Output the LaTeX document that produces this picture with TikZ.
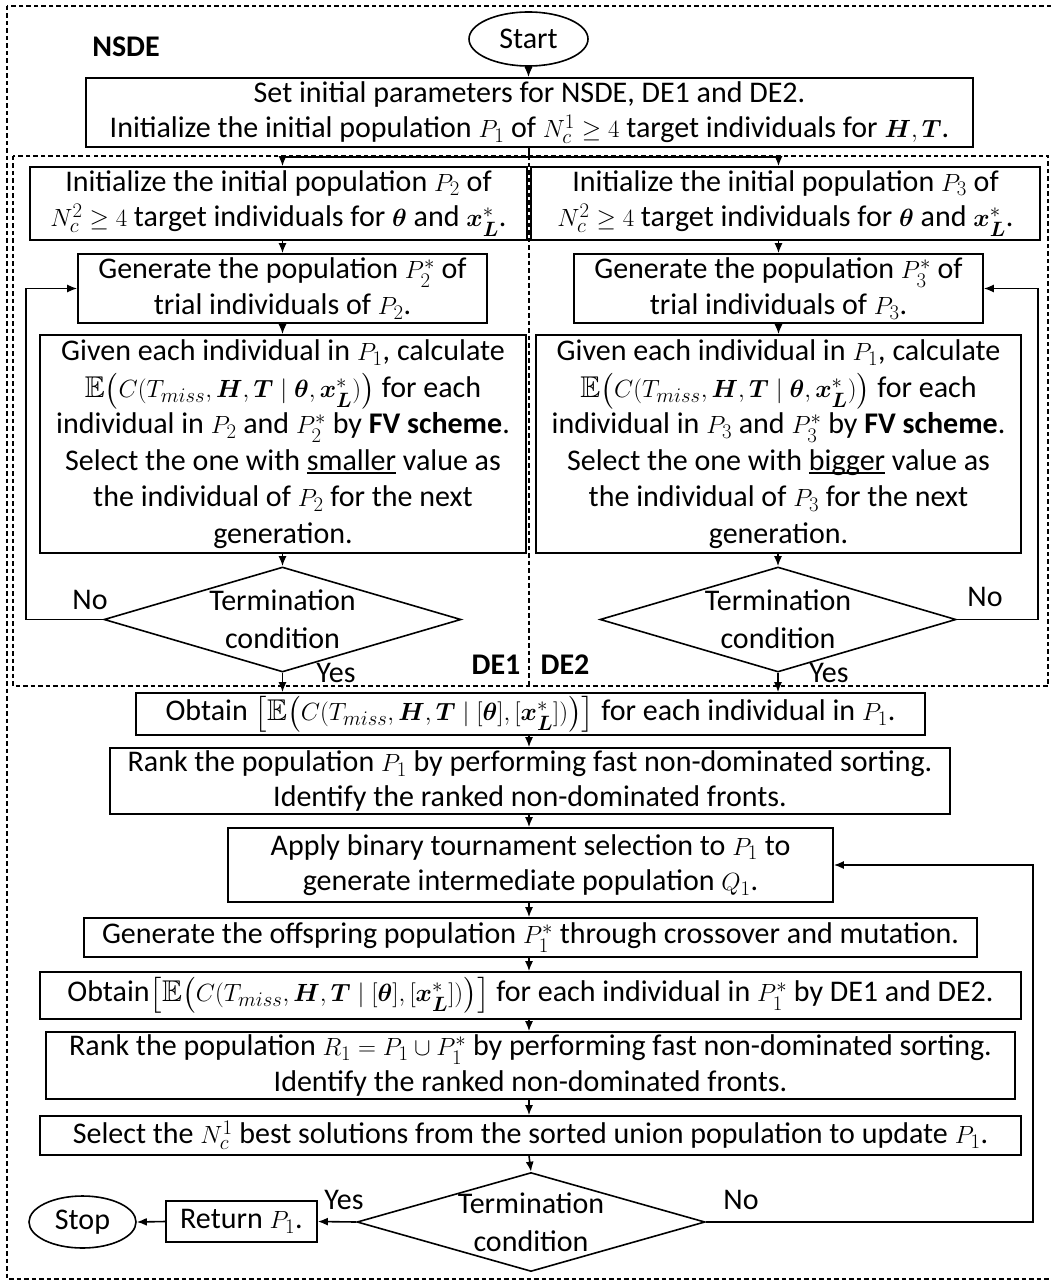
\documentclass[tikz,border=0pt]{standalone}
\usepackage{amsmath,amssymb,bm}
\usepackage{fontspec}
\setmainfont{Carlito}
\usetikzlibrary{arrows.meta,shapes.geometric}
\newcommand{\bx}{\boldsymbol{x}^{*}_{\boldsymbol{L}}}
\newcommand{\myul}[1]{\setbox0\hbox{#1}\rlap{\rule[-3.5pt]{\wd0}{1.3pt}}\box0\relax}
\begin{document}
\begin{tikzpicture}[x=1pt,y=-1pt,
  every node/.style={font=\fontsize{30}{35.5}\selectfont},
  box/.style={draw,line width=1.6pt,inner sep=0pt,align=center},
  term/.style={draw,ellipse,line width=1.6pt,inner sep=0pt},
  dia/.style={draw,diamond,line width=1.6pt,inner sep=0pt},
  lbl/.style={inner sep=0pt},
  arr/.style={line width=1.6pt,-{Latex[length=10pt,width=8pt]}},
  ln/.style={line width=1.6pt},
  dsh/.style={line width=1.2pt,dash pattern=on 4.5pt off 3pt}]
\useasboundingbox (0,0) rectangle (1050,1281);
% dashed frames
\draw[dsh] (7,6) rectangle (1056,1279);
\draw[dsh] (13,156) rectangle (1048,686);
\draw[dsh] (529,148) -- (529,686);
\node[lbl,font=\fontsize{30}{35.5}\selectfont\bfseries] (nsde) at (126,47) {NSDE};
\node[lbl,font=\fontsize{30}{35.5}\selectfont\bfseries] (de1) at (496,665) {DE1};
\node[lbl,font=\fontsize{30}{35.5}\selectfont\bfseries] (de2) at (565,665) {DE2};
% nodes
\node[term,minimum width=119pt,minimum height=54pt] (start) at (528.5,39) {Start};
\node[box,minimum width=887pt,minimum height=69pt] (b1) at (529.5,112.5)
 {Set initial parameters for NSDE, DE1 and DE2.\\
  Initialize the initial population $P_1$ of $N_c^1\geq 4$ target individuals for $\boldsymbol{H},\boldsymbol{T}$.};
\node[box,minimum width=497pt,minimum height=73pt] (i2) at (278.5,203.5)
 {Initialize the initial population $P_2$ of\\
  $N_c^2\geq 4$ target individuals for $\boldsymbol{\theta}$ and $\bx$.};
\node[box,minimum width=509pt,minimum height=73pt] (i3) at (785.5,203.5)
 {Initialize the initial population $P_3$ of\\
  $N_c^2\geq 4$ target individuals for $\boldsymbol{\theta}$ and $\bx$.};
\node[box,minimum width=409pt,minimum height=69pt] (g2) at (282.5,288.5)
 {Generate the population $P_2^*$ of\\ trial individuals of $P_2$.};
\node[box,minimum width=409pt,minimum height=69pt] (g3) at (778.5,288.5)
 {Generate the population $P_3^*$ of\\ trial individuals of $P_3$.};
\node[box,minimum width=486pt,minimum height=218pt,font=\fontsize{30}{36.5}\selectfont] (c2) at (283,444)
 {Given each individual in $P_1$, calculate\\
  $\mathbb{E}\bigl(C(T_{miss},\boldsymbol{H},\boldsymbol{T}\mid\boldsymbol{\theta},\bx)\bigr)$ for each\\
  individual in $P_2$ and $P_2^*$ by \textbf{FV scheme}.\\
  Select the one with \myul{smaller} value as\\
  the individual of $P_2$ for the next\\ generation.};
\node[box,minimum width=485pt,minimum height=218pt,font=\fontsize{30}{36.5}\selectfont] (c3) at (778.5,444)
 {Given each individual in $P_1$, calculate\\
  $\mathbb{E}\bigl(C(T_{miss},\boldsymbol{H},\boldsymbol{T}\mid\boldsymbol{\theta},\bx)\bigr)$ for each\\
  individual in $P_3$ and $P_3^*$ by \textbf{FV scheme}.\\
  Select the one with \myul{bigger} value as\\
  the individual of $P_3$ for the next\\ generation.};
\node[dia,minimum width=357pt,minimum height=105pt] (d2) at (282.5,619.5) {};
\node[lbl,align=center,font=\fontsize{30}{38}\selectfont] (t2) at (d2) {Termination\\condition};
\node[dia,minimum width=356pt,minimum height=105pt] (d3) at (778,619.5) {};
\node[lbl,align=center,font=\fontsize{30}{38}\selectfont] (t3) at (d3) {Termination\\condition};
\node[box,minimum width=789pt,minimum height=42pt] (ob) at (530.5,714)
 {Obtain $\bigl[\mathbb{E}\bigl(C(T_{miss},\boldsymbol{H},\boldsymbol{T}\mid[\boldsymbol{\theta}],[\bx])\bigr)\bigr]$ for each individual in $P_1$.};
\node[box,minimum width=840pt,minimum height=66pt] (rk) at (530,781)
 {Rank the population $P_1$ by performing fast non-dominated sorting.\\
  Identify the ranked non-dominated fronts.};
\node[box,minimum width=605pt,minimum height=74pt] (ap) at (530.5,865)
 {Apply binary tournament selection to $P_1$ to\\
  generate intermediate population $Q_1$.};
\node[box,minimum width=893pt,minimum height=39pt] (go) at (530.5,937.5)
 {Generate the offspring population $P_1^*$ through crossover and mutation.};
\node[box,minimum width=981pt,minimum height=47pt] (o2) at (530.5,995.5)
 {Obtain$\bigl[\mathbb{E}\bigl(C(T_{miss},\boldsymbol{H},\boldsymbol{T}\mid[\boldsymbol{\theta}],[\bx])\bigr)\bigr]$ for each individual in $P_1^*$ by DE1 and DE2.};
\node[box,minimum width=969pt,minimum height=67pt] (r2) at (530.5,1065.5)
 {Rank the population $R_1=P_1\cup P_1^*$ by performing fast non-dominated sorting.\\
  Identify the ranked non-dominated fronts.};
\node[box,minimum width=981pt,minimum height=39pt] (sl) at (530.5,1135.5)
 {Select the $N_c^1$ best solutions from the sorted union population to update $P_1$.};
\node[dia,minimum width=348pt,minimum height=99pt] (df) at (531,1222) {};
\node[lbl,align=center,font=\fontsize{30}{38}\selectfont] (tf) at (df) {Termination\\condition};
\node[box,minimum width=151pt,minimum height=41pt] (rt) at (241.5,1221.5) {Return $P_1$.};
\node[term,minimum width=107pt,minimum height=52pt] (stop) at (82.5,1222) {Stop};
% labels
\node[lbl] (no2) at (90,600) {No};
\node[lbl] (no3) at (985,597) {No};
\node[lbl] (y2) at (336,673) {Yes};
\node[lbl] (y3) at (829,673) {Yes};
\node[lbl] (yf) at (344,1200) {Yes};
\node[lbl] (nf) at (741,1200) {No};
% connectors
\coordinate (split) at (529,157);
\coordinate (fb2) at (26,619.5);
\coordinate (fb3) at (1038,619.5);
\coordinate (fbf) at (1033,1222);
\draw[arr] (start) -- (start |- b1.north);
\draw[ln] (b1.south -| split) -- (split);
\draw[arr] (split) -| (g2.north |- i2.north);
\draw[arr] (split) -| (g3.north |- i3.north);
\draw[arr] (g2.north |- i2.south) -- (g2.north);
\draw[arr] (g3.north |- i3.south) -- (g3.north);
\draw[arr] (g2.south) -- (g2.south |- c2.north);
\draw[arr] (g3.south) -- (g3.south |- c3.north);
\draw[arr] (c2.south -| d2.north) -- (d2.north);
\draw[arr] (c3.south -| d3.north) -- (d3.north);
\draw[arr] (d2.west) -- (fb2) |- (g2.west);
\draw[arr] (d3.east) -- (fb3) |- (g3.east);
\draw[arr] (d2.south) -- (d2.south |- ob.north);
\draw[arr] (d3.south) -- (d3.south |- ob.north);
\draw[arr] (ob.south -| split) -- (rk.north -| split);
\draw[arr] (rk.south -| split) -- (ap.north -| split);
\draw[arr] (ap.south -| split) -- (go.north -| split);
\draw[arr] (go.south -| split) -- (o2.north -| split);
\draw[arr] (o2.south -| split) -- (r2.north -| split);
\draw[arr] (r2.south -| split) -- (sl.north -| split);
\draw[arr] (sl.south -| split) -- (df.north);
\draw[arr] (df.east) -- (fbf) |- (ap.east);
\draw[arr] (df.west) -- (rt.east);
\draw[arr] (rt.west) -- (stop.east);
\end{tikzpicture}
\end{document}
